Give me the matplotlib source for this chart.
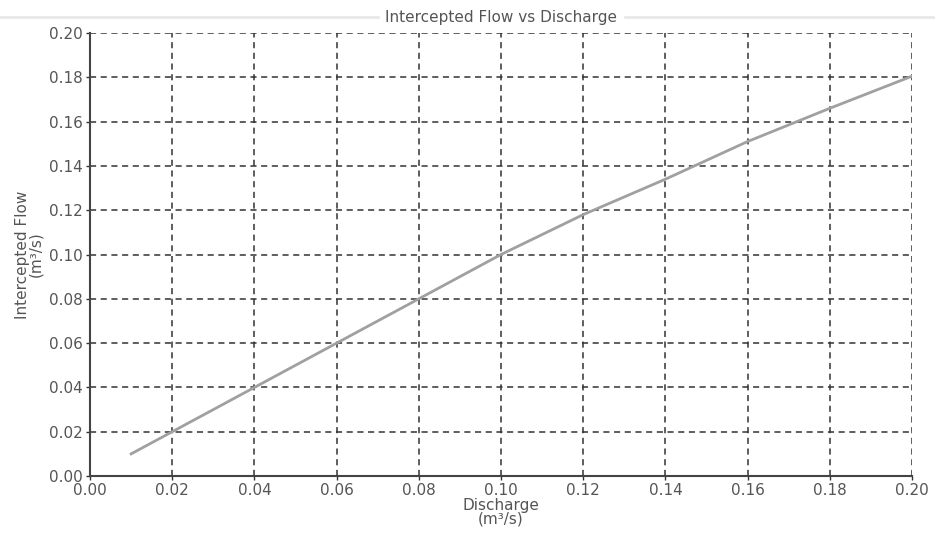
import matplotlib.pyplot as plt
from matplotlib.lines import Line2D

# Data
discharge = [0.01, 0.02, 0.04, 0.06, 0.08, 0.10, 0.12, 0.14, 0.16, 0.18, 0.20]
intercepted = [0.010, 0.020, 0.040, 0.060, 0.080, 0.100, 0.118, 0.134, 0.151, 0.166, 0.1805]
ticks = [0.00, 0.02, 0.04, 0.06, 0.08, 0.10, 0.12, 0.14, 0.16, 0.18, 0.20]

plt.rcParams['font.family'] = ['DejaVu Sans']

fig = plt.figure(figsize=(9.35, 5.38), dpi=100)
ax = fig.add_axes([0.0963, 0.1152, 0.8791, 0.8235])

# faint frame line behind the title
fig.add_artist(Line2D([0.0, 1.0], [0.969, 0.969], color='#e8e8e8', lw=2, zorder=0))

ax.plot(discharge, intercepted, color='#a0a0a0', lw=2, zorder=3)

ax.set_xlim(0, 0.20)
ax.set_ylim(0, 0.20)
ax.set_xticks(ticks)
ax.set_yticks(ticks)
ax.set_xticklabels([f"{t:.2f}" for t in ticks])
ax.set_yticklabels([f"{t:.2f}" for t in ticks])
ax.tick_params(labelsize=11, colors='#333333', length=3, width=1, pad=2)
for lab in ax.get_xticklabels() + ax.get_yticklabels():
    lab.set_color('#555555')

ax.grid(True, color='#333333', linestyle=(0, (4, 3)), lw=1.1)
for s in ['top', 'right']:
    ax.spines[s].set_visible(False)
for s in ['left', 'bottom']:
    ax.spines[s].set_color('#444444')
    ax.spines[s].set_linewidth(1.5)

title = ax.set_title("Intercepted Flow vs Discharge", fontsize=11, color='#555555', pad=8)
title.set_backgroundcolor('white')
ax.set_xlabel("Discharge\n(m³/s)", fontsize=11, color='#555555', labelpad=0, linespacing=0.9)
ax.set_ylabel("Intercepted Flow\n(m³/s)", fontsize=11, color='#555555', labelpad=4, linespacing=0.9)

fig.savefig("out.png", dpi=100)
